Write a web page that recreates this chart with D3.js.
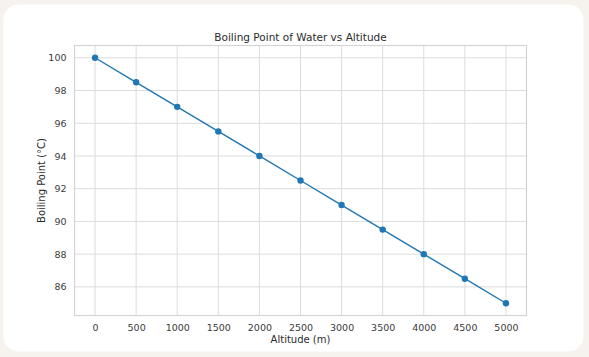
<!DOCTYPE html>
<html><head><meta charset="utf-8">
<script src="https://cdn.jsdelivr.net/npm/d3@7"></script>
<style>
html,body{margin:0;padding:0;background:#f6f2ee;}
svg{display:block;}
</style></head>
<body>
<svg id="c" width="589" height="357"></svg>
<script>
const altitudes = [0, 500, 1000, 1500, 2000, 2500, 3000, 3500, 4000, 4500, 5000];
const boilingPoints = [100, 98.5, 97, 95.5, 94, 92.5, 91, 89.5, 88, 86.5, 85];
const xTicks = [0, 500, 1000, 1500, 2000, 2500, 3000, 3500, 4000, 4500, 5000];
const yTicks = [86, 88, 90, 92, 94, 96, 98, 100];
const title = "Boiling Point of Water vs Altitude";
const xLabel = "Altitude (m)";
const yLabel = "Boiling Point (°C)";

const svg = d3.select("#c");
svg.append("rect").attr("x",3.5).attr("y",4.5).attr("width",580).attr("height",347)
  .attr("rx",15).attr("fill","#ffffff");

const L=74.5, R=526.5, T=45.5, B=315.5;
const x = d3.scaleLinear().domain([-250,5250]).range([L,R]);
const y = d3.scaleLinear().domain([84.25,100.75]).range([B,T]);
const font = "DejaVu Sans, sans-serif";

const g = svg.append("g");
// gridlines
g.selectAll(".gx").data(xTicks).enter().append("line")
  .attr("x1",d=>x(d)).attr("x2",d=>x(d)).attr("y1",T).attr("y2",B)
  .attr("stroke","#dcdcdc").attr("stroke-width",1);
g.selectAll(".gy").data(yTicks).enter().append("line")
  .attr("y1",d=>y(d)).attr("y2",d=>y(d)).attr("x1",L).attr("x2",R)
  .attr("stroke","#dcdcdc").attr("stroke-width",1);
g.append("rect").attr("x",L).attr("y",T).attr("width",R-L).attr("height",B-T)
  .attr("fill","none").attr("stroke","#d4d4d4").attr("stroke-width",1.2);

// axes via d3
const xAxis = d3.axisBottom(x).tickValues(xTicks).tickSize(0).tickPadding(9).tickFormat(d3.format("d"));
const yAxis = d3.axisLeft(y).tickValues(yTicks).tickSize(0).tickPadding(8).tickFormat(d3.format("d"));
const gx = svg.append("g").attr("transform",`translate(0,${B})`).call(xAxis);
const gy = svg.append("g").attr("transform",`translate(${L},0)`).call(yAxis);
[gx,gy].forEach(a=>{
  a.select(".domain").remove();
  a.selectAll("text").attr("font-family",font).attr("font-size",9.5).attr("fill","#3b3b3b");
});

// line
const line = d3.line().x((d,i)=>x(altitudes[i])).y(d=>y(d));
svg.append("path").datum(boilingPoints).attr("d",line)
  .attr("fill","none").attr("stroke","#1f77b4").attr("stroke-width",1.4);
svg.selectAll(".pt").data(boilingPoints).enter().append("circle")
  .attr("cx",(d,i)=>x(altitudes[i])).attr("cy",d=>y(d)).attr("r",3.2)
  .attr("fill","#1f77b4");

// labels
svg.append("text").attr("x",(L+R)/2).attr("y",40.5).attr("text-anchor","middle")
  .attr("font-family",font).attr("font-size",10.5).attr("fill","#2b2b2b").text(title);
svg.append("text").attr("x",(L+R)/2).attr("y",343).attr("text-anchor","middle")
  .attr("font-family",font).attr("font-size",10).attr("fill","#2b2b2b").text(xLabel);
svg.append("text").attr("transform",`translate(45,${(T+B)/2}) rotate(-90)`).attr("text-anchor","middle")
  .attr("font-family",font).attr("font-size",10).attr("fill","#2b2b2b").text(yLabel);
</script>
</body></html>
